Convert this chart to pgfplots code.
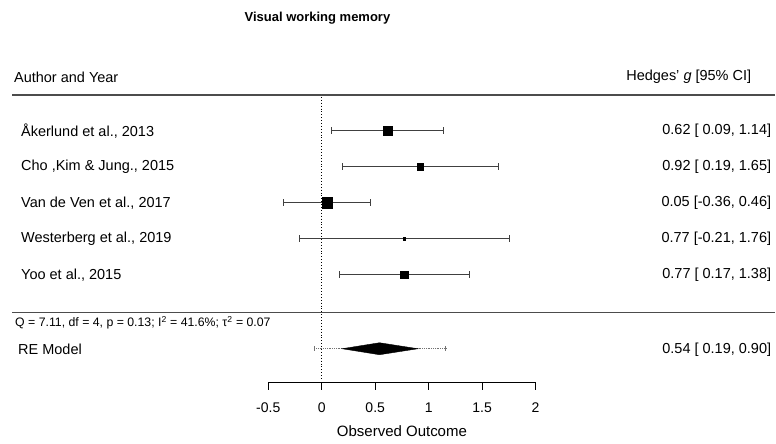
\documentclass[border=0pt]{standalone}
\usepackage{pgfplots}
\pgfplotsset{compat=1.18}
\usepackage{fontspec}
\setmainfont{Liberation Sans}
\newcommand{\fs}[1]{\fontsize{#1}{#1}\selectfont}
\begin{document}
\begin{tikzpicture}
\begin{axis}[
  scale only axis, width=776pt, height=444pt,
  xmin=-3.0093, xmax=4.2430, ymin=0, ymax=444, y dir=reverse,
  hide axis, clip=false, unbounded coords=jump,
]
\path (rel axis cs:0,0) rectangle (rel axis cs:1,1);
% separators
\addplot[black!70, line width=1.2pt] coordinates {(-2.897,95) (4.243,95)};
\addplot[black!70, line width=1.2pt] coordinates {(-2.897,313) (4.243,313)};
% reference line at 0
\addplot[black, dotted, line width=0.9pt] coordinates {(0,97) (0,381)};
% CIs
\addplot[black!75, line width=0.9pt, mark=|, mark size=3.5pt, mark options={solid}] coordinates {(0.09,131) (1.14,131)};
\addplot[black!75, line width=0.9pt, mark=|, mark size=3.5pt, mark options={solid}] coordinates {(0.19,167) (1.65,167)};
\addplot[black!75, line width=0.9pt, mark=|, mark size=3.5pt, mark options={solid}] coordinates {(-0.36,203) (0.46,203)};
\addplot[black!75, line width=0.9pt, mark=|, mark size=3.5pt, mark options={solid}] coordinates {(-0.21,239) (1.76,239)};
\addplot[black!75, line width=0.9pt, mark=|, mark size=3.5pt, mark options={solid}] coordinates {(0.17,275) (1.38,275)};
% point estimates
\addplot[only marks, mark=square*, mark size=4.5pt, black] coordinates {(0.62,131)};
\addplot[only marks, mark=square*, mark size=3.2pt, black] coordinates {(0.92,167)};
\addplot[only marks, mark=square*, mark size=5.2pt, black] coordinates {(0.05,203)};
\addplot[only marks, mark=square*, mark size=1.3pt, black] coordinates {(0.77,239)};
\addplot[only marks, mark=square*, mark size=3.8pt, black] coordinates {(0.77,275)};
% prediction interval and diamond
\addplot[black!55, densely dotted, line width=0.8pt, mark=|, mark size=2.5pt, mark options={solid}] coordinates {(-0.07,349) (1.16,349)};
\addplot[fill=black, draw=black] coordinates {(0.19,349) (0.54,343) (0.90,349) (0.54,355)} -- cycle;
% bottom axis
\addplot[black, line width=0.9pt] coordinates {(-0.5,383) (2,383)};
\addplot[black, line width=0.9pt] coordinates {(-0.5,383) (-0.5,390) (nan,nan) (0,383) (0,390) (nan,nan) (0.5,383) (0.5,390) (nan,nan) (1,383) (1,390) (nan,nan) (1.5,383) (1.5,390) (nan,nan) (2,383) (2,390)};
\foreach \t in {-0.5,0,0.5,1,1.5,2} {
  \edef\tmp{\noexpand\node[font=\noexpand\fs{14}] at (axis cs:\t,408) {\t};}\tmp
}
\node[font=\fs{15}] at (axis cs:0.75,431) {Observed Outcome};
% texts
\node[font=\bfseries\fs{13}] at (axis cs:-0.04,18) {Visual working memory};
\node[font=\fs{14.5}, anchor=west, inner sep=0pt] at (axis cs:-2.879,77) {Author and Year};
\node[font=\fs{14.5}, anchor=east, inner sep=0pt] at (axis cs:4.018,77) {Hedges' \textit{g} [95\% CI]};
\node[font=\fs{14.5}, anchor=west, inner sep=0pt] at (axis cs:-2.813,131) {Åkerlund et al., 2013};
\node[font=\fs{14.5}, anchor=west, inner sep=0pt] at (axis cs:-2.813,167) {Cho ,Kim \& Jung., 2015};
\node[font=\fs{14.5}, anchor=west, inner sep=0pt] at (axis cs:-2.813,203) {Van de Ven et al., 2017};
\node[font=\fs{14.5}, anchor=west, inner sep=0pt] at (axis cs:-2.813,239) {Westerberg et al., 2019};
\node[font=\fs{14.5}, anchor=west, inner sep=0pt] at (axis cs:-2.813,275) {Yoo et al., 2015};
\node[font=\fs{12.3}, anchor=west, inner sep=0pt] at (axis cs:-2.869,323) {Q = 7.11, df = 4, p = 0.13; I\textsuperscript{2} = 41.6\%; τ\textsuperscript{2} = 0.07};
\node[font=\fs{14.5}, anchor=west, inner sep=0pt] at (axis cs:-2.841,350) {RE Model};
\node[font=\fs{14.5}, anchor=east, inner sep=0pt] at (axis cs:4.205,131) {0.62 [ 0.09, 1.14]};
\node[font=\fs{14.5}, anchor=east, inner sep=0pt] at (axis cs:4.205,167) {0.92 [ 0.19, 1.65]};
\node[font=\fs{14.5}, anchor=east, inner sep=0pt] at (axis cs:4.205,203) {0.05 [-0.36, 0.46]};
\node[font=\fs{14.5}, anchor=east, inner sep=0pt] at (axis cs:4.205,239) {0.77 [-0.21, 1.76]};
\node[font=\fs{14.5}, anchor=east, inner sep=0pt] at (axis cs:4.205,275) {0.77 [ 0.17, 1.38]};
\node[font=\fs{14.5}, anchor=east, inner sep=0pt] at (axis cs:4.205,350) {0.54 [ 0.19, 0.90]};
\end{axis}
\end{tikzpicture}
\end{document}
